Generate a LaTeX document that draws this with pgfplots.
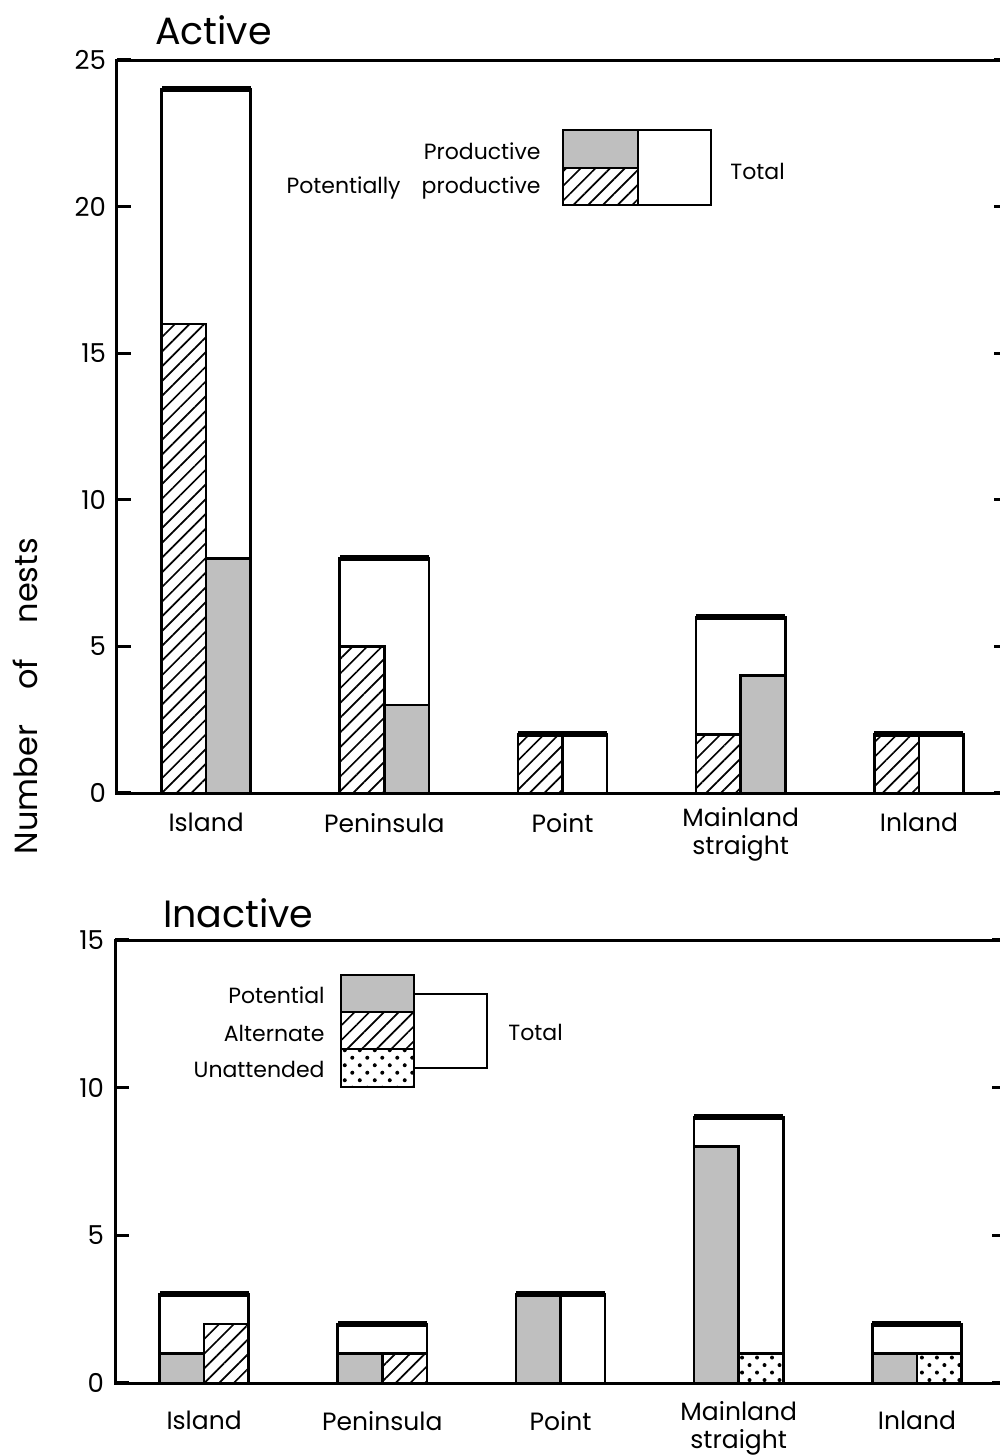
\documentclass[border=0pt]{standalone}
\usepackage{pgfplots}
\pgfplotsset{compat=1.18}
\usetikzlibrary{patterns.meta}
\usepackage{fontspec}
\setmainfont{Poppins}
\tikzset{
  hatch/.style={pattern={Lines[angle=45,distance=5.2pt,line width=0.85pt]}},
  stip/.style={fill=black!25},
  dotp/.style={pattern={Dots[angle=45,distance=5.3pt,radius=1pt]}},
}
\pgfplotsset{
  panel/.style={
    scale only axis, width=445.5pt,
    xmin=-0.5, xmax=4.5, ymin=0,
    axis line style={line width=1.5pt},
    tick align=inside,
    ytick pos=both,
    major tick length=7pt,
    ytick style={line width=1.6pt, black},
    xtick={0,1,2,4},
    xtick style={draw=none},
    xticklabels={Island,Peninsula,Point,Inland},
    xticklabel style={align=center, anchor=north, font=\fontsize{12.5}{14}\selectfont},
    extra x ticks={3},
    extra x tick labels={Mainland\\straight},
    yticklabel style={font=\fontsize{13}{15}\selectfont, xshift=-2pt},
    /pgf/number format/assume math mode=true,
    clip=false,
  },
  tot/.style={ybar, bar width=0.5, bar shift=0pt, fill=white, draw=black, line width=1.3pt},
  half/.style={ybar, bar width=0.25, bar shift=0pt, draw=black, line width=1.3pt},
  cap/.style={only marks, mark=-, mark size=22.25pt, mark options={line width=3pt, black, line cap=butt}},
}
\begin{document}
\begin{tikzpicture}
% Top panel: Active
\begin{axis}[panel, at={(58.5pt,-396.5pt)}, anchor=south west,
  height=366.5pt, ymax=25, ytick={0,5,10,15,20,25},
  xticklabel style={yshift=-6.5pt},
  extra x tick style={xticklabel style={yshift=3pt}, major tick length=0pt}]
\addplot[tot] coordinates {(0,24) (1,8) (2,2) (3,6) (4,2)};
\addplot[half, hatch] coordinates {(-0.125,16) (0.875,5) (1.875,2) (2.875,2) (3.875,2)};
\addplot[half, stip] coordinates {(0.125,8) (1.125,3) (3.125,4)};
\addplot[cap] coordinates {(0,24) (1,8) (2,2) (3,6) (4,2)};
\end{axis}
% Bottom panel: Inactive
\begin{axis}[panel, at={(57.5pt,-691.5pt)}, anchor=south west,
  height=221.5pt, ymax=15, ytick={0,5,10,15},
  xticklabel style={yshift=-10.5pt},
  extra x tick style={xticklabel style={yshift=5pt}, major tick length=0pt}]
\addplot[tot] coordinates {(0,3) (1,2) (2,3) (3,9) (4,2)};
\addplot[half, stip] coordinates {(-0.125,1) (0.875,1) (1.875,3) (2.875,8) (3.875,1)};
\addplot[half, hatch] coordinates {(0.125,2) (1.125,1)};
\addplot[half, dotp] coordinates {(3.125,1) (4.125,1)};
\addplot[cap] coordinates {(0,3) (1,2) (2,3) (3,9) (4,2)};
\end{axis}
% Titles
\node[anchor=west, font=\fontsize{19}{21}\selectfont] at (74pt,-15pt) {Active};
\node[anchor=west, font=\fontsize{19}{21}\selectfont] at (78pt,-456.5pt) {Inactive};
% y label
\node[rotate=90, font=\fontsize{16}{18}\selectfont] at (12.5pt,-348pt) {Number\hspace{1.1em}of\hspace{1.1em}nests};
% Top legend
\begin{scope}[line width=1.3pt]
\fill[black!25] (281.5pt,-65pt) rectangle (319pt,-84pt);
\path[hatch] (281.5pt,-84pt) rectangle (319pt,-102.5pt);
\draw (281.5pt,-65pt) rectangle (355.5pt,-102.5pt);
\draw (319pt,-65pt) -- (319pt,-102.5pt);
\draw (281.5pt,-84pt) -- (319pt,-84pt);
\end{scope}
\begin{scope}[font=\fontsize{11}{13}\selectfont, every node/.style={inner sep=0pt}]
\node[anchor=east] at (270.5pt,-75.5pt) {Productive};
\node[anchor=east] at (270.5pt,-94pt) {productive};
\node[anchor=east] at (200.5pt,-94pt) {Potentially};
\node[anchor=west] at (365pt,-85.5pt) {Total};
\end{scope}
% Bottom legend
\begin{scope}[line width=1.3pt]
\fill[black!25] (170.5pt,-487.5pt) rectangle (207pt,-506pt);
\path[hatch] (170.5pt,-506pt) rectangle (207pt,-524.5pt);
\path[dotp] (170.5pt,-524.5pt) rectangle (207pt,-543.5pt);
\draw (170.5pt,-487.5pt) rectangle (207pt,-506pt);
\draw (170.5pt,-506pt) rectangle (207pt,-524.5pt);
\draw (170.5pt,-524.5pt) rectangle (207pt,-543.5pt);
\draw (207pt,-497pt) -- (243.5pt,-497pt) -- (243.5pt,-534pt) -- (207pt,-534pt);
\end{scope}
\begin{scope}[font=\fontsize{11}{13}\selectfont, every node/.style={inner sep=0pt}]
\node[anchor=east] at (162.5pt,-497.5pt) {Potential};
\node[anchor=east] at (162.5pt,-516.5pt) {Alternate};
\node[anchor=east] at (162.5pt,-534.5pt) {Unattended};
\node[anchor=west] at (254pt,-516pt) {Total};
\end{scope}
\pgfresetboundingbox
\path[use as bounding box] (0pt,0pt) rectangle (500pt,-727.5pt);
\end{tikzpicture}
\end{document}
